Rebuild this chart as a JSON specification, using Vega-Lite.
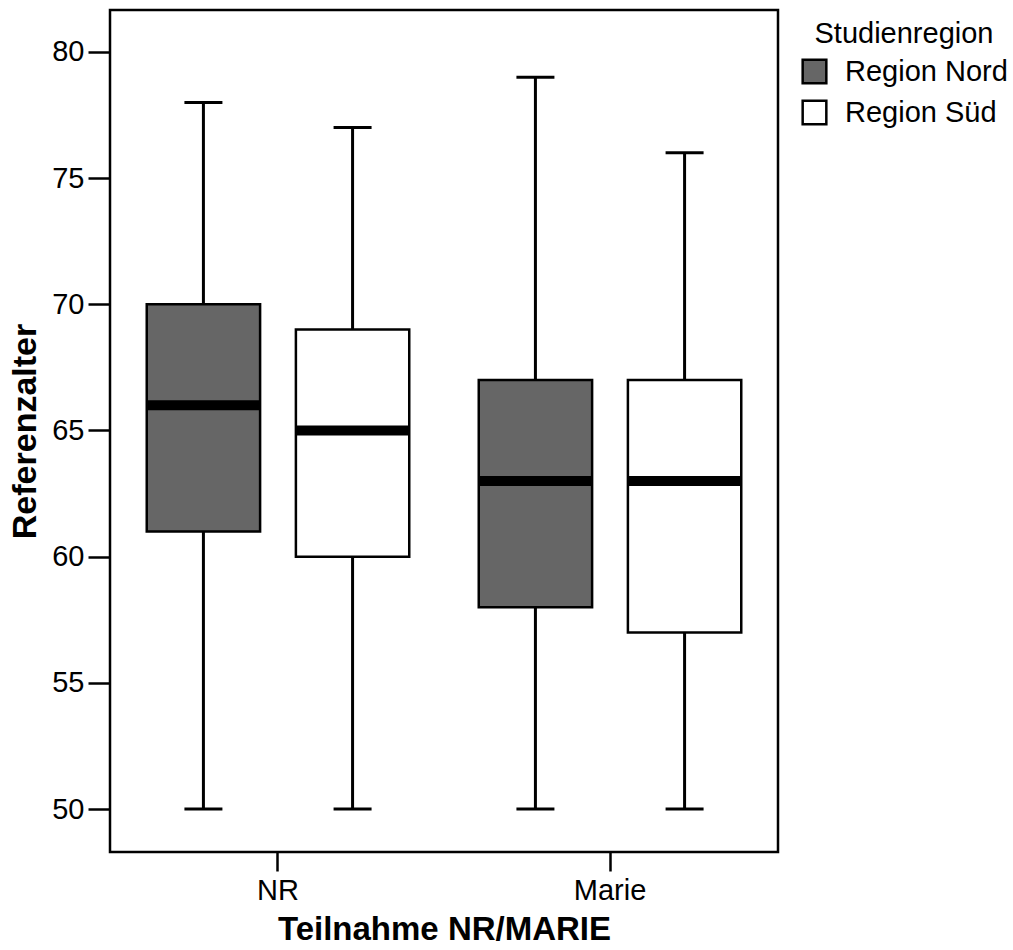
{
  "$schema": "https://vega.github.io/schema/vega-lite/v6.json",
  "width": 668,
  "height": 842,
  "autosize": {"type": "none"},
  "padding": {"left": 110, "top": 10, "right": 235, "bottom": 98},
  "background": "white",
  "config": {
    "font": "Liberation Sans",
    "view": {"stroke": "black", "strokeWidth": 2.5},
    "axis": {"labelColor": "black", "titleColor": "black", "tickColor": "black", "grid": false, "domain": false}
  },
  "data": {
    "values": [
      {"group": "NR", "region": "Region Nord", "min": 50, "q1": 61, "median": 66, "q3": 70, "max": 78},
      {"group": "NR", "region": "Region Süd", "min": 50, "q1": 60, "median": 65, "q3": 69, "max": 77},
      {"group": "Marie", "region": "Region Nord", "min": 50, "q1": 58, "median": 63, "q3": 67, "max": 79},
      {"group": "Marie", "region": "Region Süd", "min": 50, "q1": 57, "median": 63, "q3": 67, "max": 76}
    ]
  },
  "encoding": {
    "x": {
      "field": "group", "type": "nominal",
      "scale": {"domain": ["NR", "Marie"], "paddingInner": 0, "paddingOuter": 0.006},
      "axis": {
        "title": "Teilnahme NR/MARIE", "titleFontSize": 33, "titleFontWeight": "bold", "titlePadding": 8,
        "labelAngle": 0, "labelFontSize": 29, "labelPadding": 5, "tickSize": 19, "tickWidth": 2.5
      }
    },
    "xOffset": {
      "field": "region", "type": "nominal",
      "scale": {"domain": ["Region Nord", "Region Süd"], "paddingInner": 0.24, "paddingOuter": 0.233}
    }
  },
  "layer": [
    {
      "mark": {"type": "rule", "color": "black", "strokeWidth": 3},
      "encoding": {
        "y": {
          "field": "min", "type": "quantitative",
          "scale": {"domain": [48.3, 81.66], "nice": false, "zero": false},
          "axis": {
            "title": "Referenzalter", "titleFontSize": 34, "titleFontWeight": "bold",
            "titleX": -85, "titleBaseline": "middle",
            "values": [50, 55, 60, 65, 70, 75, 80], "labelFontSize": 29, "labelPadding": 4,
            "tickSize": 22, "tickWidth": 2.5
          }
        },
        "y2": {"field": "max"}
      }
    },
    {
      "mark": {"type": "tick", "color": "black", "size": 38, "thickness": 3, "opacity": 1},
      "encoding": {"y": {"field": "min", "type": "quantitative"}}
    },
    {
      "mark": {"type": "tick", "color": "black", "size": 38, "thickness": 3, "opacity": 1},
      "encoding": {"y": {"field": "max", "type": "quantitative"}}
    },
    {
      "mark": {"type": "bar", "stroke": "black", "strokeWidth": 2.5, "opacity": 1},
      "encoding": {
        "y": {"field": "q1", "type": "quantitative"},
        "y2": {"field": "q3"},
        "fill": {
          "field": "region", "type": "nominal",
          "scale": {"domain": ["Region Nord", "Region Süd"], "range": ["#666666", "#ffffff"]},
          "legend": {
            "title": "Studienregion", "orient": "none", "legendX": 690, "legendY": 10,
            "titleFontSize": 29, "titleFontWeight": "normal", "titleColor": "black", "titleAnchor": "middle",
            "titlePadding": 8, "labelFontSize": 29, "labelColor": "black", "labelOffset": 16, "labelLimit": 0,
            "symbolType": "square", "symbolSize": 560, "symbolStrokeColor": "black", "symbolStrokeWidth": 2.5,
            "symbolOpacity": 1, "rowPadding": 6
          }
        }
      }
    },
    {
      "mark": {"type": "tick", "color": "black", "size": 113, "thickness": 10, "opacity": 1},
      "encoding": {"y": {"field": "median", "type": "quantitative"}}
    }
  ]
}
